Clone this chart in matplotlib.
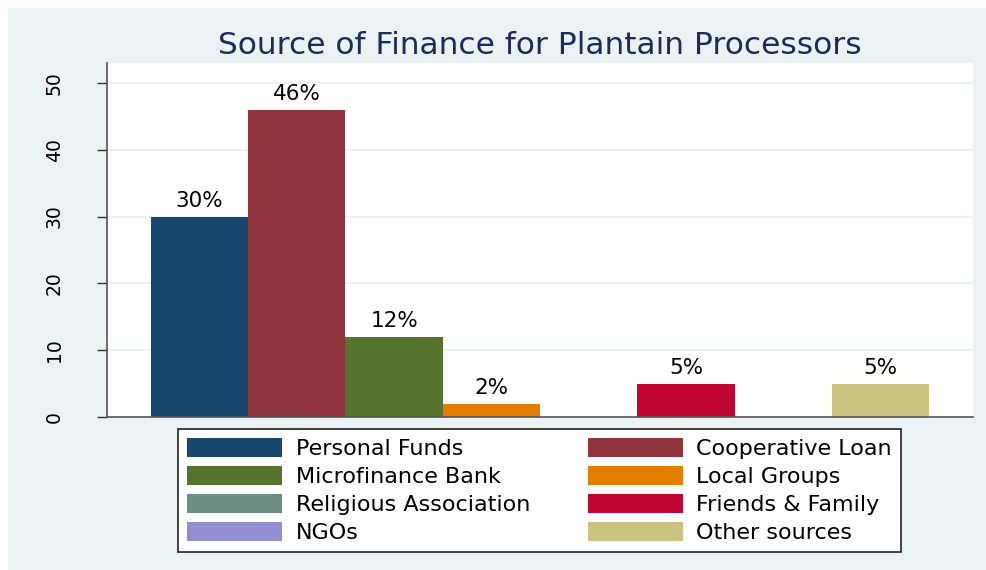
import numpy as np
import matplotlib
matplotlib.use("Agg")
import matplotlib.pyplot as plt
from matplotlib.patches import Rectangle

# Finance sources (share of processors, %)
sources = ["Personal Funds", "Cooperative Loan", "Microfinance Bank", "Local Groups",
           "Religious Association", "Friends & Family", "NGOs", "Other sources"]
shares = [30, 46, 12, 2, 0, 5, 0, 5]
colors = ["#1a476f", "#90353b", "#55752f", "#e37e00",
          "#6e8e84", "#c10534", "#938dd2", "#cac27e"]
yticks = [0, 10, 20, 30, 40, 50]
title = "Source of Finance for Plantain Processors"

W, H = 986, 570
fig = plt.figure(figsize=(W / 100, H / 100), dpi=100)
fig.patch.set_facecolor("white")
fig.add_artist(Rectangle((8 / W, 0), 1 - 8 / W, 1 - 8 / H, transform=fig.transFigure,
                         facecolor="#eaf2f3", edgecolor="none", zorder=0))

ax = fig.add_axes([107 / W, 1 - 417 / H, (973 - 107) / W, (417 - 63) / H])
ax.set_facecolor("white")

x = np.arange(len(sources))
bars = ax.bar(x, shares, width=1.0, color=colors, edgecolor="none", zorder=3)

for xi, v in zip(x, shares):
    if v > 0:
        ax.annotate(f"{v}%", (xi, v), xytext=(0, 4), textcoords="offset points",
                    ha="center", va="bottom", fontsize=15.5, color="black")

ax.set_xlim(-0.952, len(sources) - 1 + 0.952)
ax.set_ylim(0, 53)
ax.set_yticks(yticks)
ax.set_yticklabels([str(t) for t in yticks], rotation=90, va="center")
ax.tick_params(axis="y", length=7.2, width=1, pad=24, labelsize=13.5,
               color="#333333", labelcolor="black")
ax.tick_params(axis="x", bottom=False, labelbottom=False)
for t in yticks[1:]:
    ax.axhline(t, color="#eaf2f3", lw=1.6, zorder=1)

for s in ["top", "right"]:
    ax.spines[s].set_visible(False)
for s in ["left", "bottom"]:
    ax.spines[s].set_color("#555555")
    ax.spines[s].set_linewidth(1.2)
    ax.spines[s].set_zorder(4)

fig.text(540 / W, 1 - 54 / H, title, ha="center", va="baseline",
         fontsize=22.5, color="#1c2b58")

# Legend filled row by row: two columns
order = [0, 2, 4, 6, 1, 3, 5, 7]
handles = [bars[i] for i in order]
labels = [sources[i] for i in order]
leg = fig.legend(handles, labels, ncol=2, loc="upper left",
                 bbox_to_anchor=(178 / W, 1 - 429 / H, (901 - 178) / W, 0.0),
                 mode="expand", borderaxespad=0, fontsize=16, handlelength=4.3,
                 handleheight=0.95, handletextpad=0.6, labelspacing=0.3,
                 borderpad=0.4, columnspacing=1.0, fancybox=False, framealpha=1)
leg.get_frame().set_edgecolor("#222222")
leg.get_frame().set_linewidth(1.2)

fig.savefig("out.png", dpi=100, facecolor=fig.get_facecolor())
